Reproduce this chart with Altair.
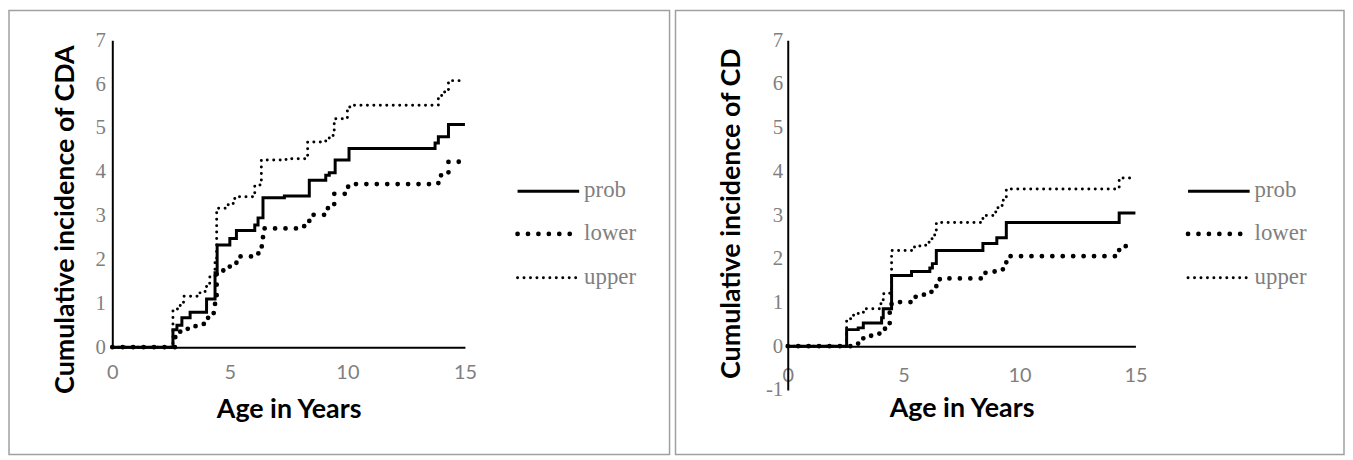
import altair as alt
import pandas as pd

series = ["prob", "lower", "upper"]
x_ticks = [0, 5, 10, 15]
left_y_ticks = [0, 1, 2, 3, 4, 5, 6, 7]
right_y_ticks = [-1, 0, 1, 2, 3, 4, 5, 6, 7]

# ---- Left chart: Cumulative incidence of CDA ----
cda_prob_age = [0, 2.58, 2.75, 2.96, 3.31, 4.01, 4.37, 4.46, 5.0, 5.28, 6.06, 6.2, 6.41, 7.32, 8.38, 9.08, 9.23, 9.48, 10.07, 13.73, 13.87, 14.3, 15.0]
cda_prob_val = [0, 0.40, 0.50, 0.67, 0.80, 1.10, 1.70, 2.33, 2.48, 2.66, 2.79, 2.95, 3.41, 3.45, 3.81, 3.92, 3.98, 4.27, 4.53, 4.66, 4.80, 5.08, 5.08]

cda_lower_age = [0, 2.68, 2.89, 3.31, 3.87, 4.01, 4.23, 4.37, 4.44, 4.93, 5.14, 5.28, 5.99, 6.34, 6.41, 7.96, 8.38, 9.15, 9.44, 10.0, 10.35, 13.87, 14.3, 15.0]
cda_lower_val = [0, 0.23, 0.42, 0.48, 0.53, 0.67, 0.78, 1.00, 1.75, 1.84, 1.92, 2.07, 2.14, 2.30, 2.71, 2.76, 3.02, 3.17, 3.50, 3.66, 3.72, 3.92, 4.23, 4.23]

cda_upper_age = [0, 2.58, 2.89, 3.03, 3.73, 4.01, 4.15, 4.37, 4.44, 4.93, 5.21, 5.99, 6.06, 6.34, 7.39, 8.31, 9.08, 9.23, 9.44, 10.0, 10.14, 13.87, 14.01, 14.3, 15.0]
cda_upper_val = [0, 0.87, 1.00, 1.16, 1.27, 1.46, 1.61, 1.99, 3.17, 3.28, 3.43, 3.50, 3.70, 4.27, 4.30, 4.68, 4.72, 4.83, 5.21, 5.48, 5.52, 5.67, 5.82, 6.08, 6.08]

# ---- Right chart: Cumulative incidence of CD ----
cd_prob_age = [0, 2.54, 3.04, 3.26, 4.05, 4.12, 4.48, 5.34, 6.13, 6.24, 6.41, 8.42, 9.02, 9.43, 14.3, 15.0]
cd_prob_val = [0, 0.38, 0.42, 0.53, 0.65, 0.86, 1.62, 1.71, 1.79, 1.89, 2.19, 2.35, 2.48, 2.83, 3.05, 3.05]

cd_lower_age = [0, 2.9, 3.04, 3.26, 3.69, 3.97, 4.26, 4.40, 4.48, 5.34, 5.55, 6.05, 6.2, 6.41, 6.56, 8.35, 8.49, 8.78, 9.0, 9.3, 9.43, 14.3, 15.0]
cd_lower_val = [0, 0.06, 0.14, 0.24, 0.29, 0.40, 0.48, 0.78, 1.01, 1.13, 1.18, 1.24, 1.32, 1.51, 1.55, 1.58, 1.68, 1.71, 1.76, 1.85, 2.06, 2.29, 2.29]

cd_upper_age = [0, 2.54, 2.83, 3.04, 3.33, 3.97, 4.12, 4.40, 4.48, 5.34, 5.7, 6.05, 6.2, 6.34, 6.41, 8.42, 8.85, 9.07, 9.3, 9.43, 14.3, 15.0]
cd_upper_val = [0, 0.63, 0.71, 0.78, 0.86, 0.97, 1.20, 1.28, 2.19, 2.27, 2.31, 2.38, 2.46, 2.65, 2.83, 2.99, 3.07, 3.22, 3.37, 3.60, 3.85, 3.85]

GRAY = "#7f7f7f"
FRAME = "#a0a0a0"

STYLE = {
    "prob": dict(strokeWidth=3),
    "lower": dict(strokeWidth=4.8, strokeDash=[0, 10.5], strokeCap="round"),
    "upper": dict(strokeWidth=3, strokeDash=[0, 6.5], strokeCap="round"),
}


def long_df(ages, vals):
    rows = []
    for s in series:
        for a, v in zip(ages[s], vals[s]):
            rows.append({"age": a, "value": v, "series": s})
    return pd.DataFrame(rows)


def panel(df, ytitle, ydom, yticks, width, height, frame, legend_x, x_offset,
          x_labelpad, y_labelpad, ytitle_x, ytitle_y):
    xenc = alt.X(
        "age:Q",
        scale=alt.Scale(domain=[0, 15], nice=False, zero=False),
        axis=alt.Axis(
            values=x_ticks, title="Age in Years", offset=x_offset,
            labelPadding=x_labelpad, ticks=False, tickSize=0, grid=False,
            domainColor="black", domainWidth=2, labelFont="Lato",
            labelFontSize=20, labelColor=GRAY, titleFont="Lato",
            titleFontWeight="bold", titleFontSize=27, titleColor="black",
            titleY=63, titleBaseline="middle", labelFlush=False,
        ),
    )
    yenc = alt.Y(
        "value:Q",
        scale=alt.Scale(domain=ydom, nice=False, zero=False),
        axis=alt.Axis(
            values=yticks, title=ytitle, labelPadding=y_labelpad, ticks=False,
            tickSize=0, grid=False, domainColor="black", domainWidth=2,
            labelFont="Liberation Serif", labelFontSize=21, labelColor=GRAY,
            labelExpr="toString(datum.value)",
            titleFont="Lato", titleFontWeight="bold", titleFontSize=27,
            titleColor="black", titleX=ytitle_x, titleY=ytitle_y,
            titleBaseline="middle", titleAlign="center", titleAngle=270,
        ),
    )
    layers = []
    for s in series:
        layers.append(
            alt.Chart(df)
            .transform_filter(alt.datum.series == s)
            .mark_line(interpolate="step-after", color="black", **STYLE[s])
            .encode(x=xenc, y=yenc)
        )
    ly = [152, 195, 239]
    for s, yy in zip(series, ly):
        one = pd.DataFrame({"label": [s]})
        layers.append(
            alt.Chart(one)
            .mark_rule(color="black", **STYLE[s])
            .encode(x=alt.value(legend_x), x2=alt.value(legend_x + 62), y=alt.value(yy))
        )
        layers.append(
            alt.Chart(one)
            .mark_text(align="left", baseline="middle", font="Liberation Serif",
                       fontSize=23, color=GRAY)
            .encode(x=alt.value(legend_x + 67), y=alt.value(yy - 1), text="label:N")
        )
    fr = pd.DataFrame({"k": [0]})
    layers.append(
        alt.Chart(fr)
        .mark_rect(fillOpacity=0, stroke=FRAME, strokeWidth=1.5)
        .encode(x=alt.value(frame[0]), x2=alt.value(frame[1]),
                y=alt.value(frame[2]), y2=alt.value(frame[3]))
    )
    return alt.layer(*layers).properties(width=width, height=height)


left_df = long_df(
    {"prob": cda_prob_age, "lower": cda_lower_age, "upper": cda_upper_age},
    {"prob": cda_prob_val, "lower": cda_lower_val, "upper": cda_upper_val},
)
right_df = long_df(
    {"prob": cd_prob_age, "lower": cd_lower_age, "upper": cd_upper_age},
    {"prob": cd_prob_val, "lower": cd_lower_val, "upper": cd_upper_val},
)

left = panel(left_df, "Cumulative incidence of CDA", [0, 7], left_y_ticks,
             355, 309, (-104, 561, -30, 417), 408, 0, 15, 7, -47, 180)
right = panel(right_df, "Cumulative incidence of CD", [-1, 7], right_y_ticks,
              350, 352, (-113, 560, -30, 417), 403, -44, 20, 5, -57, 174)

chart = (
    alt.hconcat(left, right, spacing=4)
    .properties(padding=0)
    .configure_view(stroke=None)
)

chart.save("out.html", embed_options={"renderer": "svg", "actions": False})
